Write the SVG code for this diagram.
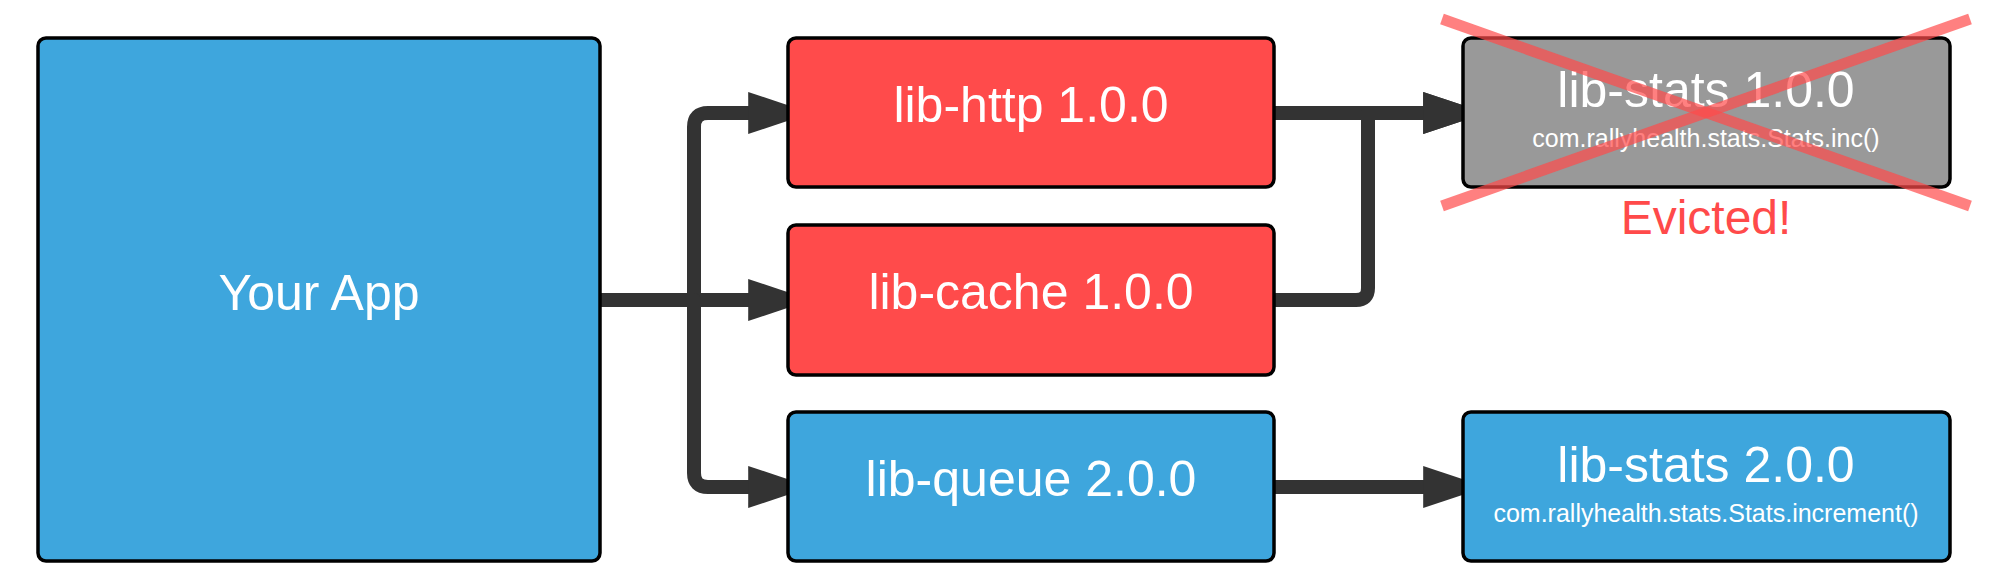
<svg xmlns="http://www.w3.org/2000/svg" width="1996" height="588" viewBox="0 0 1996 588">
<style>
.box{stroke:#000;stroke-width:3.5}
.blue{fill:#3ea6dd}
.red{fill:#ff4b4b}
.gray{fill:#999999}
.t{font-family:"Liberation Sans",Arial,sans-serif;fill:#fff;text-anchor:middle}
.title{font-size:50px}
.sub{font-size:25px}
.conn{fill:none;stroke:#333;stroke-width:14;stroke-linejoin:round}
.x{stroke:#ff4a4a;stroke-opacity:0.7;stroke-width:11}
</style>
<defs>
<marker id="arr" markerUnits="userSpaceOnUse" markerWidth="40" markerHeight="42" viewBox="0 0 36 38" refX="36" refY="19" orient="auto">
<polygon points="0,0 36,12 36,26 0,38" fill="#333"/>
</marker>
</defs>
<g id="connectors">
<path class="conn" d="M600,300 H788" marker-end="url(#arr)"/>
<path class="conn" d="M600,300 H694 V127 Q694,113 708,113 H788" marker-end="url(#arr)"/>
<path class="conn" d="M600,300 H694 V473 Q694,487 708,487 H788" marker-end="url(#arr)"/>
<path class="conn" d="M1274,113 H1463" marker-end="url(#arr)"/>
<path class="conn" d="M1274,300 H1356 Q1368,300 1368,288 V113 H1463" marker-end="url(#arr)"/>
<path class="conn" d="M1274,487 H1463" marker-end="url(#arr)"/>
</g>
<g id="your-app">
<rect class="box blue" x="38" y="38" width="562" height="523" rx="8"/>
<text class="t title" x="319" y="310">Your App</text>
</g>
<g id="lib-http">
<rect class="box red" x="788" y="38" width="486" height="149" rx="8"/>
<text class="t title" x="1031" y="122">lib-http 1.0.0</text>
</g>
<g id="lib-cache">
<rect class="box red" x="788" y="225" width="486" height="150" rx="8"/>
<text class="t title" x="1031" y="309">lib-cache 1.0.0</text>
</g>
<g id="lib-queue">
<rect class="box blue" x="788" y="412" width="486" height="149" rx="8"/>
<text class="t title" x="1031" y="496">lib-queue 2.0.0</text>
</g>
<g id="lib-stats-1">
<rect class="box gray" x="1463" y="38" width="487" height="149" rx="8"/>
<text class="t title" x="1706" y="107">lib-stats 1.0.0</text>
<text class="t sub" x="1706" y="147">com.rallyhealth.stats.Stats.inc()</text>
<line class="x" x1="1442" y1="19" x2="1970" y2="206"/>
<line class="x" x1="1970" y1="19" x2="1442" y2="206"/>
<text x="1706" y="234" style="font-family:'Liberation Sans',Arial,sans-serif;font-size:48px;fill:#ff4a4a;text-anchor:middle">Evicted!</text>
</g>
<g id="lib-stats-2">
<rect class="box blue" x="1463" y="412" width="487" height="149" rx="8"/>
<text class="t title" x="1706" y="482">lib-stats 2.0.0</text>
<text class="t sub" x="1706" y="522">com.rallyhealth.stats.Stats.increment()</text>
</g>
</svg>
